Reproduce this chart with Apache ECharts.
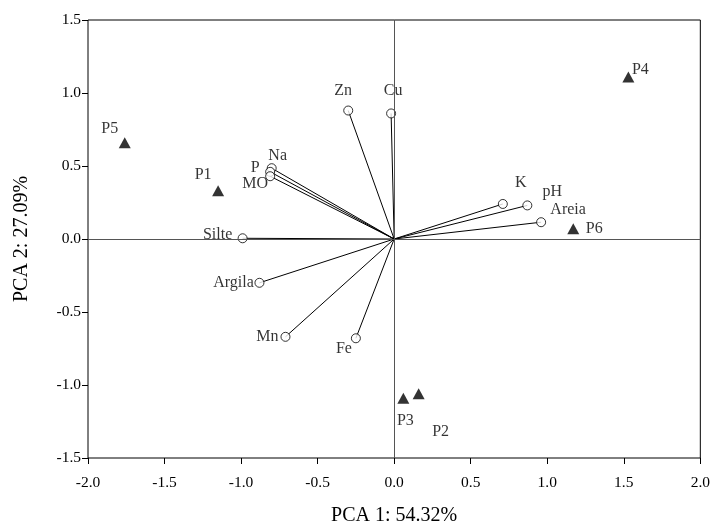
<!DOCTYPE html>
<html>
<head>
<meta charset="utf-8">
<script src="https://cdn.jsdelivr.net/npm/echarts@6/dist/echarts.min.js"></script>
<style>html,body{margin:0;padding:0;background:#fff}#c{width:713px;height:531px}</style>
</head>
<body>
<div id="c"></div>
<script>
// Variable vectors (loadings)
var varNames = ['Zn','Cu','Na','P','MO','Silte','Argila','Mn','Fe','K','pH','Areia'];
var varPC1 = [-0.30,-0.02,-0.80,-0.81,-0.81,-0.99,-0.88,-0.71,-0.25,0.71,0.87,0.96];
var varPC2 = [0.88,0.86,0.485,0.46,0.43,0.005,-0.30,-0.67,-0.68,0.24,0.23,0.115];
// Sample scores
var siteNames = ['P1','P2','P3','P4','P5','P6'];
var sitePC1 = [-1.15,0.16,0.06,1.53,-1.76,1.17];
var sitePC2 = [0.33,-1.06,-1.09,1.11,0.66,0.07];
// Tick labels
var xTicks = ['-2.0','-1.5','-1.0','-0.5','0.0','0.5','1.0','1.5','2.0'];
var yTicks = ['-1.5','-1.0','-0.5','0.0','0.5','1.0','1.5'];

// label offsets (pixels, style only)
var varLabelOffsets = [[-5,-20],[2,-23],[6,-12],[-15,-4],[-15,8],[-25,-3],[-26,0],[-18,0],[-12,11],[18,-21],[25,-14],[27,-12]];
var siteLabelOffsets = [[-15,-16],[22,38],[2,23],[12,-7],[-15,-14],[21,0]];

var font = '"Liberation Serif", "DejaVu Serif", serif';

var varData = varNames.map(function(n,i){
  return {value:[varPC1[i],varPC2[i]], name:n, label:{offset:varLabelOffsets[i]}};
});
var siteData = siteNames.map(function(n,i){
  return {value:[sitePC1[i],sitePC2[i]], name:n, label:{offset:siteLabelOffsets[i]}};
});
var vecLines = varNames.map(function(n,i){
  return {coords:[[0,0],[varPC1[i],varPC2[i]]]};
});

var chart = echarts.init(document.getElementById('c'), null, {renderer:'canvas'});
chart.setOption({
  animation:false,
  backgroundColor:'#fff',
  grid:{left:88,right:12,top:20,bottom:72,show:true,borderColor:'#000',borderWidth:1,backgroundColor:'transparent'},
  xAxis:{
    type:'value',min:-2,max:2,interval:0.5,
    name:'PCA 1: 54.32%',nameLocation:'middle',nameGap:48,
    nameTextStyle:{fontFamily:font,fontSize:20,color:'#000'},
    axisLine:{show:false,onZero:false},
    axisTick:{show:true,length:6,lineStyle:{color:'#000'}},
    axisLabel:{fontFamily:font,fontSize:15.5,color:'#000',margin:17,
      formatter:function(v){var i=Math.round((v+2)/0.5);return xTicks[i];}},
    splitLine:{show:false}
  },
  yAxis:{
    type:'value',min:-1.5,max:1.5,interval:0.5,
    name:'PCA 2: 27.09%',nameLocation:'middle',nameGap:56,
    nameTextStyle:{fontFamily:font,fontSize:20,color:'#000'},
    axisLine:{show:false,onZero:false},
    axisTick:{show:true,length:6,lineStyle:{color:'#000'}},
    axisLabel:{fontFamily:font,fontSize:15.5,color:'#000',margin:7,
      formatter:function(v){var i=Math.round((v+1.5)/0.5);return yTicks[i];}},
    splitLine:{show:false}
  },
  series:[
    {
      type:'lines',coordinateSystem:'cartesian2d',silent:true,
      data:vecLines,
      lineStyle:{color:'#000',width:1,opacity:1},
      markLine:{silent:true,symbol:'none',label:{show:false},
        lineStyle:{color:'#555',width:1,type:'solid'},
        data:[{xAxis:0},{yAxis:0}]},
      z:2
    },
    {
      type:'scatter',data:varData,symbol:'circle',symbolSize:9,
      itemStyle:{color:'#fff',borderColor:'#000',borderWidth:1},
      label:{show:true,position:'inside',formatter:'{b}',fontFamily:font,fontSize:16,color:'#000',align:'center',verticalAlign:'middle'},
      z:3
    },
    {
      type:'scatter',data:siteData,symbol:'triangle',symbolSize:[12,11],
      itemStyle:{color:'#000'},
      label:{show:true,position:'inside',formatter:'{b}',fontFamily:font,fontSize:16,color:'#000',align:'center',verticalAlign:'middle'},
      z:3
    }
  ]
});
</script>
</body>
</html>
